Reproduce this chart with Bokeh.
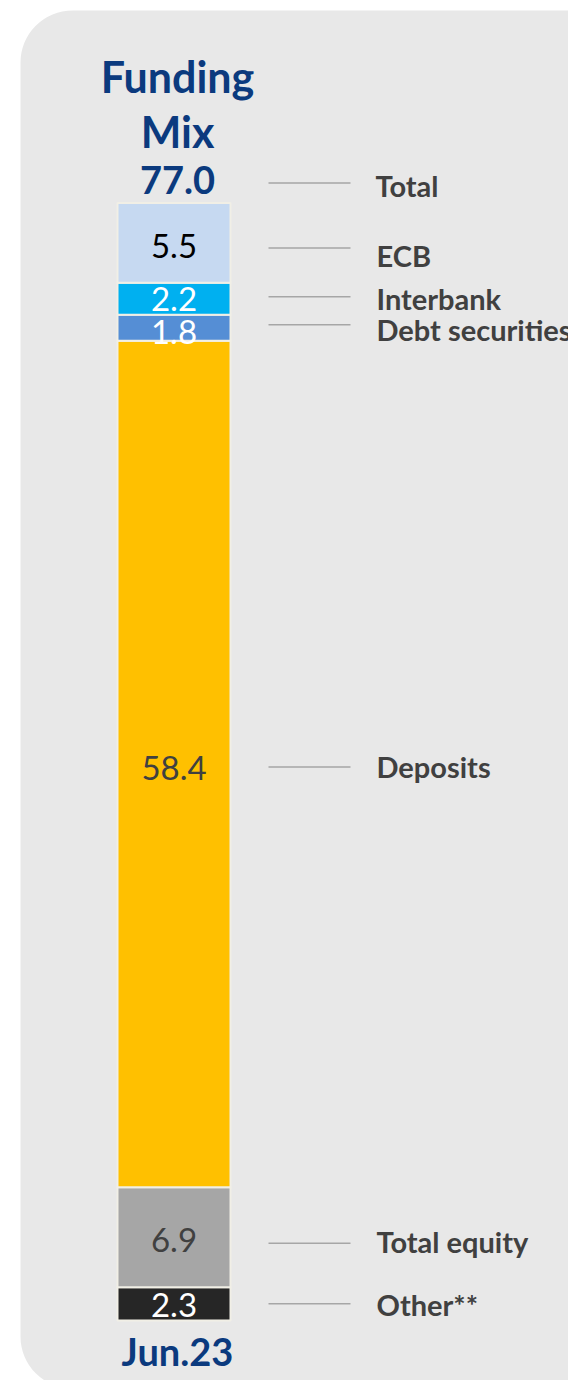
from bokeh.plotting import figure
from bokeh.models import Range1d, BoxAnnotation, ColumnDataSource
from bokeh.core.properties import value
from bokeh.embed import file_html
from bokeh.resources import INLINE

# ---- data ----
categories = ["Other**", "Total equity", "Deposits", "Debt securities", "Interbank", "ECB"]
values = [2.3, 6.9, 58.4, 1.8, 2.2, 5.5]
total_value = 77.0
total_label = "Total"
period = "Jun.23"
title_lines = ["Funding", "Mix"]

# ---- styles ----
colors = ["#262626", "#A6A6A6", "#FFC000", "#558ED5", "#00B0F0", "#C6D9F1"]
value_colors = ["#FFFFFF", "#404040", "#404040", "#FFFFFF", "#FFFFFF", "#000000"]
# pixel tweaks (positive = down)
leader_dy = [0, 6, 3, -3, -2, 5]
label_dy = [1, 4, 3, 2, 0, 13]
value_dy = [1, 3, 4, 4, 0, 3]

FONT = "Lato"
BLUE = "#0B3A7E"
GREY_TXT = "#404040"

W, H = 568, 1380
px_per_unit = 1116 / 77.0
y_top = 77.0 + 204 / px_per_unit
y_bot = y_top - H / px_per_unit

p = figure(width=W, height=H, x_range=Range1d(0, W), y_range=Range1d(y_bot, y_top),
           toolbar_location=None, output_backend="svg", min_border=0,
           x_axis_location=None, y_axis_location=None,
           background_fill_color="white", border_fill_color="white")
p.outline_line_color = None
p.grid.visible = False

panel = BoxAnnotation(left=20, right=W + 200, top=y_top - 10 / px_per_unit,
                      bottom=y_top - 1388 / px_per_unit,
                      fill_color="#E8E8E8", fill_alpha=1.0, line_color=None,
                      border_radius=52, level="underlay")
p.add_layout(panel)

bottoms, tops, centers = [], [], []
acc = 0.0
for v in values:
    bottoms.append(acc)
    acc += v
    tops.append(acc)
    centers.append(acc - v / 2)

bar_x = 173.5
bar_w = 113
src = ColumnDataSource(dict(
    bottom=bottoms, top=tops, color=colors,
    center=centers, txt=[f"{v:.1f}" for v in values], tcol=value_colors,
    vdy=value_dy, ldy=label_dy, cat=categories,
    ly=[c - d / px_per_unit for c, d in zip(centers, leader_dy)],
))
p.vbar(x=bar_x, bottom="bottom", top="top", width=bar_w, fill_color="color",
       line_color="#F1EFE6", line_width=2, source=src)

p.text(x=bar_x, y="center", text="txt", y_offset="vdy", text_color="tcol",
       text_font=value(FONT), text_font_size="33px", text_align="center",
       text_baseline="middle", source=src)

# leaders
lx0, lx1 = 268, 350
p.segment(x0=lx0, y0="ly", x1=lx1, y1="ly",
          line_color="#A6A6A6", line_width=1.5, source=src)
p.text(x=376, y="center", text="cat", y_offset="ldy",
       text_color=GREY_TXT, text_font=value(FONT), text_font_style="bold",
       text_font_size="29px", text_align="left", text_baseline="middle", source=src)

# total
stack_top = tops[-1]
tx = 177
p.text(x=[tx], y=[stack_top], text=[f"{total_value:.1f}"], y_offset=-23,
       text_color=BLUE, text_font=value(FONT), text_font_style="bold",
       text_font_size="38px", text_align="center", text_baseline="middle")
p.text(x=[tx], y=[stack_top], text=[title_lines[1]], y_offset=-72,
       text_color=BLUE, text_font=value(FONT), text_font_style="bold",
       text_font_size="43px", text_align="center", text_baseline="middle")
p.text(x=[tx], y=[stack_top], text=[title_lines[0]], y_offset=-127,
       text_color=BLUE, text_font=value(FONT), text_font_style="bold",
       text_font_size="43px", text_align="center", text_baseline="middle")
p.segment(x0=[lx0], y0=[stack_top + 20 / px_per_unit], x1=[lx1], y1=[stack_top + 20 / px_per_unit],
          line_color="#A6A6A6", line_width=1.5)
p.text(x=[375], y=[stack_top], text=[total_label], y_offset=-18,
       text_color=GREY_TXT, text_font=value(FONT), text_font_style="bold",
       text_font_size="29px", text_align="left", text_baseline="middle")

# period
p.text(x=[tx], y=[0], text=[period], y_offset=30,
       text_color=BLUE, text_font=value(FONT), text_font_style="bold",
       text_font_size="38px", text_align="center", text_baseline="middle")

open("out.html", "w").write(file_html(p, INLINE))
